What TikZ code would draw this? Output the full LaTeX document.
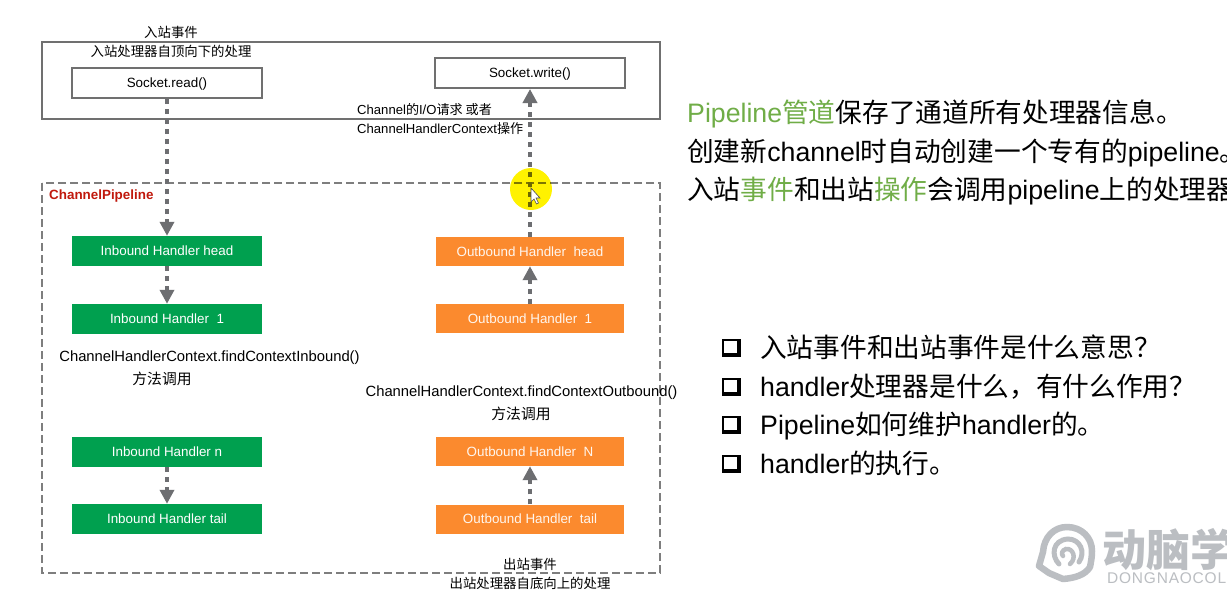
\documentclass[tikz,border=0pt]{standalone}
\usepackage{fontspec}
\setmainfont{Liberation Sans}
\newfontfamily\cjk{Noto Sans CJK SC}
\usetikzlibrary{arrows.meta}
\newcommand{\zh}[1]{{\cjk #1}}
\definecolor{inboundgreen}{HTML}{00A04F}
\definecolor{outboundorange}{HTML}{FB8A2E}
\definecolor{flowgray}{HTML}{6D6E71}
\definecolor{framegray}{HTML}{707070}
\definecolor{logogray}{HTML}{BBBEC2}
\definecolor{notegreen}{HTML}{70AD47}
\definecolor{titlered}{HTML}{C0180C}
\tikzset{
	smalltext/.style={inner sep=0, font=\fontsize{13.4}{15}\selectfont},
	midtext/.style={inner sep=0, font=\fontsize{14.8}{17}\selectfont},
	bigtext/.style={inner sep=0, anchor=base west, font=\fontsize{26.7}{30}\selectfont},
	boxtext/.style={inner sep=0, text height=10pt, text depth=1pt, font=\fontsize{13.4}{15}\selectfont},
	socketbox/.style={boxtext, draw=framegray, line width=2pt, fill=white, minimum width=190pt, minimum height=30pt},
	inbox/.style={boxtext, fill=inboundgreen, text=white, minimum width=190pt, minimum height=30pt},
	outbox/.style={boxtext, fill=outboundorange, text=white!92!outboundorange, minimum width=188pt, minimum height=29pt},
	flow/.style={draw=flowgray, line width=4.5pt, dash pattern=on 5pt off 5pt, -{Triangle[width=14pt,length=14pt,fill=flowgray]}}
}
\begin{document}
\begin{tikzpicture}[x=1pt, y=-1pt]
			%%%%% START %%%%%
			\useasboundingbox (0, 0) rectangle (1227, 592);
			\clip (0, 0) rectangle (1227, 592);
			\fill[white] (0, 0) rectangle (1227, 592);
			
			\draw[framegray, line width=2pt] (42, 42) rectangle (660, 119);
			\draw[framegray!90, line width=2pt, dash pattern=on 8pt off 4pt] (42, 183) rectangle (660, 573);
			
			\node[smalltext] (intitle) at (171, 32) {\zh{入站事件}};
			\node[smalltext] (insub) at (171, 51) {\zh{入站处理器自顶向下的处理}};
			\node[smalltext, anchor=west, text=titlered, font=\fontsize{13.4}{15}\selectfont\bfseries] (pipename) at (49, 196) {ChannelPipeline};
			
			\node[socketbox] (read) at (167, 83) {Socket.read()};
			\node[socketbox] (write) at (530, 73) {Socket.write()};
			
			\node[smalltext, anchor=west, font=\fontsize{13.1}{15}\selectfont] (iotext) at (357, 110) {Channel\zh{的}I/O\zh{请求 或者}};
			\node[smalltext, anchor=west, font=\fontsize{13.1}{15}\selectfont] (ctxtext) at (357, 129) {ChannelHandlerContext\zh{操作}};
			
			\node[inbox] (inhead) at (167, 251) {Inbound Handler head};
			\node[inbox] (inone) at (167, 319) {Inbound Handler\ \ 1};
			\node[inbox] (inn) at (167, 452) {Inbound Handler n};
			\node[inbox] (intail) at (167, 519) {Inbound Handler tail};
			
			\node[outbox] (outhead) at (530, 251.5) {Outbound Handler\ \ head};
			\node[outbox] (outone) at (530, 318.5) {Outbound Handler\ \ 1};
			\node[outbox] (outn) at (530, 451.5) {Outbound Handler\ \ N};
			\node[outbox] (outtail) at (530, 519) {Outbound Handler\ \ tail};
			
			\node[midtext] (findin) at (209.5, 358) {ChannelHandlerContext.findContextInbound()};
			\node[midtext] (callin) at (162, 379) {\zh{方法调用}};
			\node[midtext] (findout) at (521.5, 393) {ChannelHandlerContext.findContextOutbound()};
			\node[midtext] (callout) at (521, 414) {\zh{方法调用}};
			\node[smalltext] (outtitle) at (530, 564) {\zh{出站事件}};
			\node[smalltext] (outsub) at (530, 583) {\zh{出站处理器自底向上的处理}};
			
			\draw[flow] (read) -- (inhead);
			\draw[flow] (inhead) -- (inone);
			\draw[flow] (inn) -- (intail);
			\draw[flow] (outhead) -- (write);
			\draw[flow] (outone) -- (outhead);
			\draw[flow] (outtail) -- (outn);
			
			% pointer highlight
			\fill[yellow, blend mode=multiply] (531, 189) circle (21);
			\draw[black!70, fill=white, line width=0.6pt] (531, 188) -- (531, 202) -- (534, 199) -- (536.5, 204) -- (538.5, 203) -- (536, 198) -- (540, 198) -- cycle;
			
			\node[bigtext] (noteone) at (687, 122) {\textcolor{notegreen}{Pipeline\zh{管道}}\zh{保存了通道所有处理器信息。}};
			\node[bigtext] (notetwo) at (687, 161) {\zh{创建新}channel\zh{时自动创建一个专有的}pipeline\zh{。}};
			\node[bigtext] (notethree) at (687, 199) {\zh{入站}\textcolor{notegreen}{\zh{事件}}\zh{和出站}\textcolor{notegreen}{\zh{操作}}\zh{会调用}pipeline\zh{上的处理器}};
			
			\foreach \y in {347.5, 386.5, 424.5, 463.5} {
				\fill[black] (722, \y-9) rectangle (741, \y+9);
				\fill[white] (724, \y-7) rectangle (737, \y+5);
			}
			\node[bigtext] (askone) at (760, 357) {\zh{入站事件和出站事件是什么意思？}};
			\node[bigtext] (asktwo) at (760, 396) {handler\zh{处理器是什么，有什么作用？}};
			\node[bigtext] (askthree) at (760, 434) {Pipeline\zh{如何维护}handler\zh{的。}};
			\node[bigtext] (askfour) at (760, 473) {handler\zh{的执行。}};
			
			% logo
			\draw[logogray, line width=6.5pt, line cap=round, line join=round] (1090, 567) .. controls (1085, 575) and (1075, 578) .. (1063, 579) -- (1049, 573) -- (1039, 566) -- (1043, 552) .. controls (1044, 537) and (1054, 527) .. (1067, 527) .. controls (1082, 527) and (1092, 538) .. (1092, 551) .. controls (1092, 557) and (1091, 562) .. (1090, 567);
			\draw[logogray, line width=5pt, line cap=round] (1059, 564) .. controls (1051, 556) and (1052, 540) .. (1068, 539) .. controls (1080, 539) and (1086, 552) .. (1079, 562);
			\draw[logogray, line width=4.5pt, line cap=round] (1070, 564) .. controls (1077, 558) and (1073, 548) .. (1066, 549) .. controls (1062, 550) and (1061, 554) .. (1063, 556);
			\node[inner sep=0, anchor=west, text=logogray, font=\cjk\bfseries\fontsize{44}{46}\selectfont] (logoname) at (1102, 550) {动脑学};
			\node[inner sep=0, anchor=base west, text=logogray, font=\fontsize{15.5}{17}\selectfont\addfontfeature{LetterSpace=5}] (logosub) at (1107, 583) {DONGNAOCOL};
			
			%%%%% END %%%%%
\end{tikzpicture}
\end{document}
